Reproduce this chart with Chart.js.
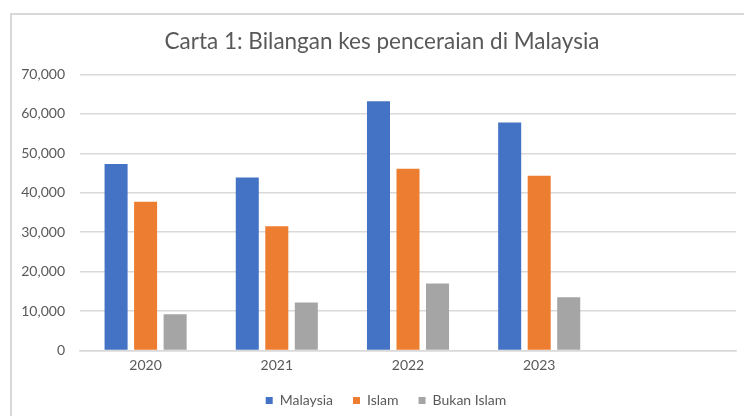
<!DOCTYPE html>
<html>
<head>
<meta charset="utf-8">
<script src="https://cdn.jsdelivr.net/npm/chart.js@4.4.1/dist/chart.umd.min.js"></script>
<style>
  html, body { margin: 0; padding: 0; background: #ffffff; }
  #wrap { position: relative; width: 744px; height: 416px; overflow: hidden; }
  #frame { position: absolute; left: 10px; top: 13px; width: 800px; height: 500px;
           border-left: 2px solid #d9d9d9; border-top: 2px solid #d9d9d9; box-sizing: border-box; }
  canvas { position: absolute; left: 0; top: 0; }
</style>
</head>
<body>
<div id="wrap">
  <div id="frame"></div>
  <canvas id="c" width="744" height="416"></canvas>
</div>
<script>
const categories = ['2020', '2021', '2022', '2023', ''];
const malaysia   = [47300, 43900, 63200, 57800, null];
const islam      = [37700, 31500, 46100, 44300, null];
const bukanIslam = [9200, 12200, 17000, 13500, null];
const yMax = 70000;
const yStep = 10000;
const titleText = 'Carta 1: Bilangan kes penceraian di Malaysia';

const FONT = 'Lato, "Open Sans", sans-serif';
const TEXT = '#595959';

// Centre title and legend within the framed chart box rather than the canvas
const shiftBlocks = {
  id: 'shiftBlocks',
  afterLayout(chart) {
    if (chart.titleBlock) chart.titleBlock.left += 18;
    if (chart.legend) chart.legend.left += 26;
  }
};

new Chart(document.getElementById('c'), {
  type: 'bar',
  data: {
    labels: categories,
    datasets: [
      { label: 'Malaysia', data: malaysia, backgroundColor: '#4472C4' },
      { label: 'Islam', data: islam, backgroundColor: '#ED7D31' },
      { label: 'Bukan Islam', data: bukanIslam, backgroundColor: '#A5A5A5' }
    ]
  },
  plugins: [shiftBlocks],
  options: {
    responsive: false,
    animation: false,
    devicePixelRatio: 1,
    layout: { padding: { left: 10, right: 8, top: 0, bottom: -1.5 } },
    datasets: { bar: { categoryPercentage: 0.675, barPercentage: 0.78 } },
    plugins: {
      title: {
        display: true,
        text: titleText,
        color: TEXT,
        font: { family: FONT, size: 22.5, weight: 'normal' },
        padding: { top: 28, bottom: 19.5 }
      },
      legend: {
        position: 'bottom',
        labels: {
          color: TEXT,
          font: { family: FONT, size: 14 },
          boxWidth: 7,
          boxHeight: 7,
          padding: 20
        }
      },
      tooltip: { enabled: false }
    },
    scales: {
      x: {
        afterFit: (s) => { s.height = 23; },
        grid: { display: false, drawTicks: false },
        border: { color: '#d9d9d9', width: 1.5 },
        ticks: { color: TEXT, font: { family: FONT, size: 14 }, padding: 7 }
      },
      y: {
        min: 0,
        max: yMax,
        afterFit: (s) => { s.width = 70; },
        grid: { color: '#d9d9d9', lineWidth: 1.5, drawTicks: false },
        border: { display: false },
        ticks: {
          stepSize: yStep,
          color: TEXT,
          font: { family: FONT, size: 14 },
          padding: 15,
          callback: (v) => v.toLocaleString('en-US')
        }
      }
    }
  }
});
</script>
</body>
</html>
